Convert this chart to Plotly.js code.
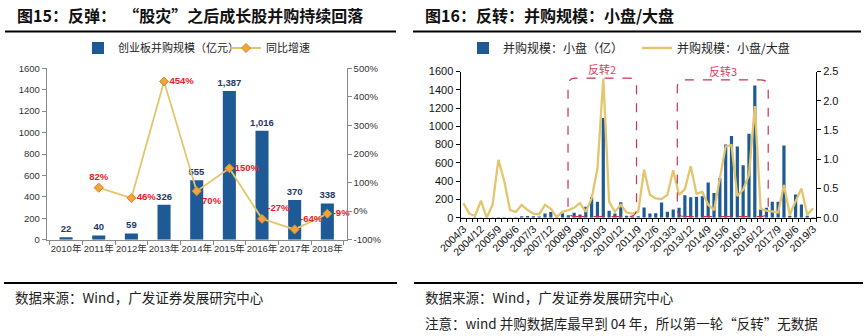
<!DOCTYPE html>
<html><head><meta charset="utf-8">
<script src="https://cdn.plot.ly/plotly-3.0.1.min.js"></script>
<style>body{margin:0;background:#fff}#chart{width:868px;height:336px}</style>
</head><body><div id="chart"></div>
<script>
// ---------- Left chart data ----------
const years = ['2010年','2011年','2012年','2013年','2014年','2015年','2016年','2017年','2018年'];
const gemMA = [22, 40, 59, 326, 555, 1387, 1016, 370, 338];
const yoyGrowth = [null, 82, 46, 454, 70, 150, -27, -64, -9];
const leftY2TickVals = [-100, 0, 100, 200, 300, 400, 500];
const leftY2TickText = ['-100%', '0%', '100%', '200%', '300%', '400%', '500%'];

// ---------- Right chart data ----------
const quarters = ['2004/3','2004/6','2004/9','2004/12','2005/3','2005/6','2005/9','2005/12',
 '2006/3','2006/6','2006/9','2006/12','2007/3','2007/6','2007/9','2007/12',
 '2008/3','2008/6','2008/9','2008/12','2009/3','2009/6','2009/9','2009/12',
 '2010/3','2010/6','2010/9','2010/12','2011/3','2011/6','2011/9','2011/12',
 '2012/3','2012/6','2012/9','2012/12','2013/3','2013/6','2013/9','2013/12',
 '2014/3','2014/6','2014/9','2014/12','2015/3','2015/6','2015/9','2015/12',
 '2016/3','2016/6','2016/9','2016/12','2017/3','2017/6','2017/9','2017/12',
 '2018/3','2018/6','2018/9','2018/12','2019/3'];
const smallCapMA = [3,2,4,3,2,3,5,4,3,4,15,18,15,14,45,62,5,50,28,55,35,120,223,175,
 1090,75,45,168,22,12,15,112,45,50,165,65,90,110,245,225,230,235,385,270,435,800,
 895,780,575,920,1447,90,110,175,175,790,20,255,145,20,5];
const smallLargeRatio = [0.25,0.07,0.03,0.29,0.0,0.22,0.99,0.63,0.13,0.10,0.22,0.13,0.07,0.06,0.22,0.15,
 0.01,0.10,0.13,0.17,0.25,0.10,0.33,0.84,2.38,0.27,0.10,0.22,0.09,0.07,0.10,0.82,
 0.39,0.33,0.32,0.39,0.81,0.39,0.49,0.88,0.41,0.44,0.22,0.13,0.67,1.22,1.24,0.37,
 0.48,0.73,1.91,0.15,0.12,0.10,0.09,0.56,0.05,0.28,0.50,0.05,0.16];
const tickStep = 3;
// reversal windows
const reversalNames = ['反转2', '反转3'];
const reversalStart = [17.95, 36.7];
const reversalEnd = [29.7, 52.3];
const reversalTop = [1528, 1509];

const seriesNames = ['创业板并购规模（亿元）', '同比增速', '并购规模：小盘（亿）', '并购规模：小盘/大盘'];

// ---------- styles ----------
const BLUE = '#1E5B96';
const GOLD = '#E3C56E';
const NUM_FONT = 'Liberation Sans, Arial, Noto Sans CJK SC, sans-serif';
const CJK_FONT = 'Noto Sans CJK SC, sans-serif';
const W = 868, H = 336;
const px = v => v / W, py = v => 1 - v / H;

const qIdx = quarters.map((_, i) => i);
const tickIdx = qIdx.filter(i => i % tickStep === 0);

const traces = [
  {
    type: 'bar', x: years, y: gemMA, name: seriesNames[0], xaxis: 'x', yaxis: 'y',
    marker: {color: BLUE}, width: 0.4,
    text: gemMA.map(v => v.toLocaleString('en-US')), textposition: 'outside',
    textfont: {family: NUM_FONT, size: 9.5, color: '#1F3864', weight: 'bold'},
    cliponaxis: false, constraintext: 'none', legend: 'legend', hoverinfo: 'skip'
  },
  {
    type: 'scatter', mode: 'lines+markers+text', x: years, y: yoyGrowth, name: seriesNames[1],
    xaxis: 'x', yaxis: 'y2',
    line: {color: GOLD, width: 1.8},
    marker: {symbol: 'diamond', size: 7, color: '#F2A33A', line: {color: '#D5892A', width: 1}},
    text: yoyGrowth.map(v => v === null ? '' : v + '%'),
    textposition: ['top center', 'top center', 'middle right', 'middle right', 'bottom right',
                   'middle right', 'top right', 'top right', 'middle right'],
    textfont: {family: NUM_FONT, size: 9.5, color: '#E8201E', weight: 'bold'},
    cliponaxis: false, legend: 'legend', hoverinfo: 'skip'
  },
  {
    type: 'bar', x: qIdx, y: smallCapMA, name: seriesNames[2], xaxis: 'x2', yaxis: 'y3',
    marker: {color: BLUE}, legend: 'legend2', hoverinfo: 'skip'
  },
  {
    type: 'scatter', mode: 'lines', x: qIdx, y: smallLargeRatio, name: seriesNames[3],
    xaxis: 'x2', yaxis: 'y4', line: {color: GOLD, width: 2.3}, legend: 'legend2', hoverinfo: 'skip'
  }
];

function roundedBox(x0, x1, y0, y1, rx, ry) {
  return `M${x0+rx},${y0} L${x1-rx},${y0} Q${x1},${y0} ${x1},${y0+ry} L${x1},${y1-ry} Q${x1},${y1} ${x1-rx},${y1} ` +
         `L${x0+rx},${y1} Q${x0},${y1} ${x0},${y1-ry} L${x0},${y0+ry} Q${x0},${y0} ${x0+rx},${y0} Z`;
}

const shapes = [
  {type: 'line', xref: 'paper', yref: 'paper', x0: px(5), x1: px(396), y0: py(31.5), y1: py(31.5), line: {color: '#000', width: 2}},
  {type: 'line', xref: 'paper', yref: 'paper', x0: px(413), x1: px(861), y0: py(31.5), y1: py(31.5), line: {color: '#000', width: 2}},
  {type: 'line', xref: 'paper', yref: 'paper', x0: px(4), x1: px(397), y0: py(283), y1: py(283), line: {color: '#000', width: 2}},
  {type: 'line', xref: 'paper', yref: 'paper', x0: px(414), x1: px(863), y0: py(283), y1: py(283), line: {color: '#000', width: 2}}
];
reversalNames.forEach((n, k) => {
  shapes.push({type: 'path', xref: 'x2', yref: 'y3',
    path: roundedBox(reversalStart[k], reversalEnd[k], 12, reversalTop[k], 1.3, 85),
    line: {color: '#C8324C', width: 1.2, dash: 'dash'}});
});

const annotations = [
  {xref: 'paper', yref: 'paper', x: px(15), y: py(15), xanchor: 'left', yanchor: 'middle', showarrow: false,
   text: '<b>图15：反弹：  “股灾”之后成长股并购持续回落</b>', font: {family: CJK_FONT, size: 16, color: '#111'}},
  {xref: 'paper', yref: 'paper', x: px(423), y: py(15), xanchor: 'left', yanchor: 'middle', showarrow: false,
   text: '<b>图16：反转：并购规模：小盘/大盘</b>', font: {family: CJK_FONT, size: 16, color: '#111'}},
  {xref: 'paper', yref: 'paper', x: px(13), y: py(297), xanchor: 'left', yanchor: 'middle', showarrow: false,
   text: '数据来源：Wind，广发证券发展研究中心', font: {family: CJK_FONT, size: 13.5, color: '#222'}},
  {xref: 'paper', yref: 'paper', x: px(423), y: py(297), xanchor: 'left', yanchor: 'middle', showarrow: false,
   text: '数据来源：Wind，广发证券发展研究中心', font: {family: CJK_FONT, size: 13.5, color: '#222'}},
  {xref: 'paper', yref: 'paper', x: px(423), y: py(323), xanchor: 'left', yanchor: 'middle', showarrow: false,
   text: '注意：wind 并购数据库最早到 04 年，所以第一轮“反转”无数据', font: {family: CJK_FONT, size: 13.5, color: '#222'}}
];
reversalNames.forEach((n, k) => {
  annotations.push({xref: 'x2', yref: 'y3', x: (reversalStart[k] + reversalEnd[k]) / 2, y: reversalTop[k],
    yanchor: 'bottom', yshift: -1, showarrow: false, text: n,
    font: {family: CJK_FONT, size: 11, color: '#D9405C'}});
});

const axisBase = {showgrid: false, zeroline: false, showline: true, ticks: 'outside', fixedrange: true};

const layout = {
  width: W, height: H, margin: {l: 0, r: 0, t: 0, b: 0},
  paper_bgcolor: '#fff', plot_bgcolor: 'rgba(0,0,0,0)',
  font: {family: NUM_FONT, size: 10, color: '#222'},
  bargap: 0.45,
  xaxis: Object.assign({}, axisBase, {domain: [px(46.7), px(346.7)], anchor: 'y', type: 'category',
    linecolor: '#8a8a8a', tickcolor: '#8a8a8a', ticklen: 4, tickson: 'boundaries', tickangle: 0,
    tickfont: {size: 9.5, color: '#333'}}),
  yaxis: Object.assign({}, axisBase, {domain: [py(239.7), py(68.3)], anchor: 'x', range: [0, 1600], dtick: 200,
    linecolor: '#8a8a8a', tickcolor: '#8a8a8a', ticklen: 4, tickfont: {size: 9.5, color: '#333'}}),
  yaxis2: Object.assign({}, axisBase, {overlaying: 'y', side: 'right', anchor: 'x', range: [-100, 500],
    tickmode: 'array', tickvals: leftY2TickVals, ticktext: leftY2TickText,
    linecolor: '#8a8a8a', tickcolor: '#8a8a8a', ticklen: 4, tickfont: {size: 9.5, color: '#333'}}),
  xaxis2: Object.assign({}, axisBase, {domain: [px(460.5), px(816)], anchor: 'y3', range: [-0.5, quarters.length - 0.5],
    tickmode: 'array', tickvals: tickIdx, ticktext: tickIdx.map(i => quarters[i]), tickangle: -45,
    ticks: '', linecolor: '#000', tickfont: {size: 10.5, color: '#111'},
    minor: {tickmode: 'linear', tick0: -0.5, dtick: 1, ticks: 'outside', ticklen: 3, tickcolor: '#000', showgrid: false}}),
  yaxis3: Object.assign({}, axisBase, {domain: [py(217.7), py(71.5)], anchor: 'x2', range: [0, 1600], dtick: 200,
    linecolor: '#000', tickcolor: '#000', ticklen: 4, tickfont: {size: 11, color: '#111'}}),
  yaxis4: Object.assign({}, axisBase, {overlaying: 'y3', side: 'right', anchor: 'x2', range: [0, 2.5], dtick: 0.5,
    tickformat: '.1f', linecolor: '#000', tickcolor: '#000', ticklen: 4, tickfont: {size: 11, color: '#111'}}),
  legend: {orientation: 'h', x: px(78), y: py(48), xanchor: 'left', yanchor: 'middle',
    font: {family: CJK_FONT, size: 11, color: '#222'}, bgcolor: 'rgba(0,0,0,0)', itemwidth: 30, entrywidth: 103},
  legend2: {orientation: 'h', x: px(463), y: py(48), xanchor: 'left', yanchor: 'middle',
    font: {family: CJK_FONT, size: 12, color: '#222'}, bgcolor: 'rgba(0,0,0,0)', itemwidth: 30, entrywidth: 129},
  shapes: shapes,
  annotations: annotations
};

Plotly.newPlot('chart', traces, layout, {staticPlot: true, displayModeBar: false});
</script>
</body></html>
